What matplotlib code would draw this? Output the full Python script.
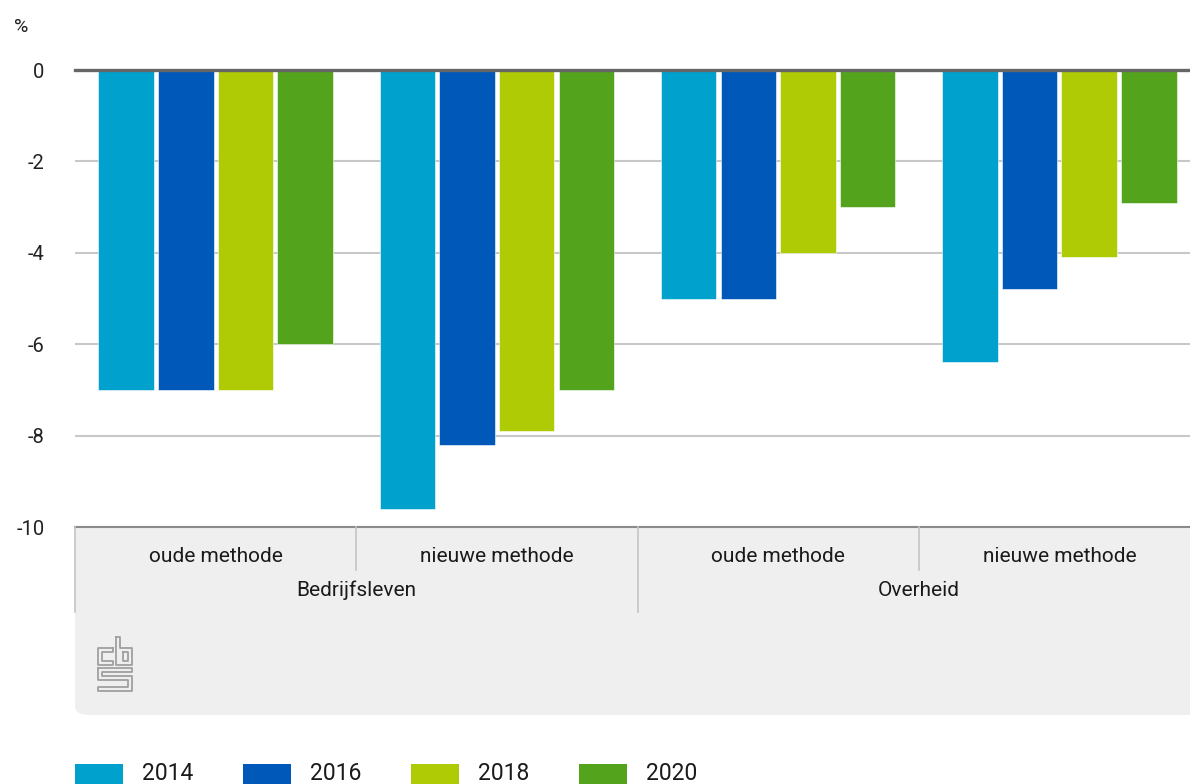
import matplotlib
matplotlib.use("Agg")
import matplotlib.pyplot as plt
from matplotlib.patches import Rectangle, FancyBboxPatch
from matplotlib.lines import Line2D
import numpy as np

plt.rcParams['font.family'] = ['Roboto', 'DejaVu Sans']

# ---- data ----
subcats = ["oude methode", "nieuwe methode", "oude methode", "nieuwe methode"]
sectors = ["Bedrijfsleven", "Overheid"]
years = ["2014", "2016", "2018", "2020"]
v2014 = [-7.0, -9.6, -5.0, -6.4]
v2016 = [-7.0, -8.2, -5.0, -4.8]
v2018 = [-7.0, -7.9, -4.0, -4.1]
v2020 = [-6.0, -7.0, -3.0, -2.9]
yticks = [0, -2, -4, -6, -8, -10]
colors = ["#00A1CD", "#0058B8", "#AFCB05", "#53A31D"]

W, H = 1190, 784
fig = plt.figure(figsize=(W / 100, H / 100), dpi=100)

def fx(px):
    return px / W

def fy(py):
    return 1 - py / H

ax_left, ax_right, ax_top, ax_bot = 75, 1200, 70, 527
ax = fig.add_axes([fx(ax_left), fy(ax_bot), fx(ax_right - ax_left), fy(ax_top) - fy(ax_bot)])

# grey panel under axis (rounded bottom-left corner)
panel = FancyBboxPatch((fx(75), fy(715)), fx(1260 - 75), fy(480) - fy(715),
                       boxstyle="round,pad=0,rounding_size=0.012",
                       transform=fig.transFigure, facecolor="#efefef",
                       edgecolor="none", zorder=-5)
fig.add_artist(panel)

series = [v2014, v2016, v2018, v2020]
x = np.arange(len(subcats))
pitch = 0.212
bw = 0.197
for i, (vals, c) in enumerate(zip(series, colors)):
    ax.bar(x + (i - 1.5) * pitch, vals, width=bw, color=c, zorder=3,
           edgecolor="white", linewidth=0.4)

ax.set_xlim(-0.5, 3.5)
ax.set_ylim(-10, 0)
ax.set_yticks(yticks)
ax.set_yticklabels([str(t) for t in yticks], fontsize=14.5, color="#222222")
ax.tick_params(axis='y', length=0, pad=22)
ax.set_xticks([])
for s in ["top", "right", "left"]:
    ax.spines[s].set_visible(False)
ax.spines["bottom"].set_color("#8a8a8a")
ax.spines["bottom"].set_linewidth(1.5)

for t in [-2, -4, -6, -8]:
    ax.axhline(t, color="#c8c8c8", linewidth=1.5, zorder=1)
ax.axhline(0, color="#666666", linewidth=2.4, zorder=4, clip_on=False)

# % unit label
fig.text(fx(14), fy(27), "%", fontsize=14, color="#222222", va="center", ha="left")

# category labels
gw = (ax_right - ax_left) / 4
for i, lab in enumerate(subcats):
    cx = ax_left + gw * (i + 0.5)
    fig.text(fx(cx), fy(556), lab, fontsize=15, ha="center", va="center", color="#1a1a1a")
for j, lab in enumerate(sectors):
    cx = ax_left + gw * (2 * j + 1)
    fig.text(fx(cx), fy(590), lab, fontsize=15, ha="center", va="center", color="#1a1a1a")

# separators
for i in [1, 3]:
    xx = ax_left + gw * i
    fig.add_artist(Line2D([fx(xx), fx(xx)], [fy(527), fy(570)], color="#c4c4c4", lw=1.2))
for i in [0, 2]:
    xx = ax_left + gw * i
    fig.add_artist(Line2D([fx(xx), fx(xx)], [fy(527), fy(612)], color="#c4c4c4", lw=1.2))

# CBS logo (approximate outline)
lc = "#a0a0a0"
def pl(pts):
    xs = [fx(p[0]) for p in pts]
    ys = [fy(p[1]) for p in pts]
    fig.add_artist(Line2D(xs, ys, color=lc, lw=1.3))
# c
pl([(113, 648), (98, 648), (98, 665), (113, 665), (113, 661), (102, 661), (102, 652), (113, 652), (113, 648)])
# b
pl([(116, 637), (120, 637), (120, 648), (132, 648), (132, 665), (116, 665), (116, 637)])
pl([(123, 652), (128, 652), (128, 661), (123, 661), (123, 652)])
# s
pl([(98, 668), (132, 668), (132, 672), (102, 672), (102, 676), (132, 676), (132, 691),
    (98, 691), (98, 687), (128, 687), (128, 680), (98, 680), (98, 668)])

# legend
for i, (yr, c) in enumerate(zip(years, colors)):
    x0 = 75 + 168 * i
    fig.add_artist(Rectangle((fx(x0), fy(784)), fx(48), fy(764) - fy(784),
                             transform=fig.transFigure, facecolor=c, edgecolor="none"))
    fig.text(fx(x0 + 67), fy(773), yr, fontsize=16.5, ha="left", va="center", color="#1a1a1a")

fig.savefig("out.png", dpi=100)
